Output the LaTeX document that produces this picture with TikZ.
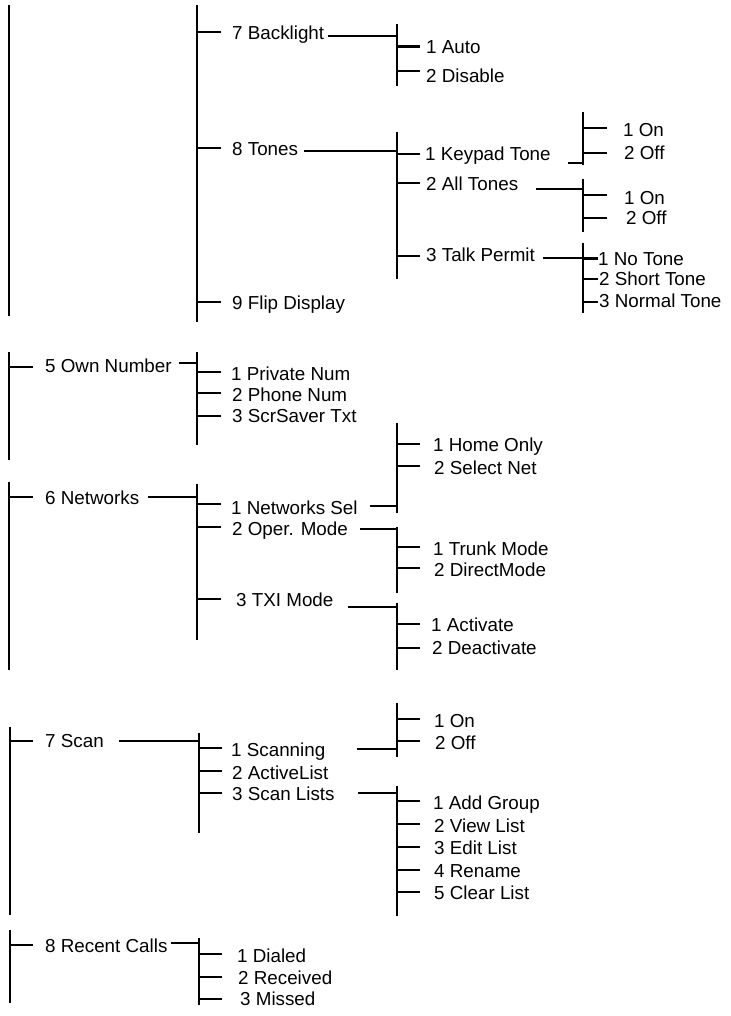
\documentclass[tikz,border=0pt]{standalone}
\usepackage{fontspec}
\setmainfont{Liberation Sans}
\tikzset{
  lbl/.style={anchor=west, inner sep=0pt, text height=13.5pt, text depth=0pt,
              font=\fontsize{18.8}{22}\selectfont},
  ln/.style={line width=2.2pt, black},
}
% bar: name, x, top y, bottom y
\newcommand\mybar[4]{\coordinate (#1) at (#2,#3); \coordinate (#1e) at (#2,#4); \draw[ln] (#1) -- (#1e);}
% leaf: name, bar, x, y, tick yshift, gap, text
\newcommand\leaf[7]{\node[lbl] (#1) at (#3,#4) {#7};
  \draw[ln] ([shift={(-#6pt,#5pt)}]#1.west) coordinate (tmp) -- (tmp -| #2);}
% link from parent text to child bar: parent, bar, xshift, yshift
\newcommand\link[4]{\draw[ln] ([shift={(#3pt,#4pt)}]#1.east) coordinate (tmp) -- (tmp -| #2);}
\begin{document}
\begin{tikzpicture}[x=1pt,y=-1pt]
\useasboundingbox (0,0) rectangle (730,1016);
% ---------- section 1
\mybar{bA}{9}{5}{316}
\mybar{bB}{197}{5}{322}
\leaf{nBack}{bB}{232}{33}{0.7}{11}{7 Backlight}
\leaf{nTones}{bB}{232}{149}{0.7}{11}{8 Tones}
\leaf{nFlip}{bB}{232}{302.5}{0.8}{11}{9 Flip Display}
\mybar{bC}{397}{24}{86}
\link{nBack}{bC}{3.5}{-3}
\leaf{nAuto}{bC}{426}{46.5}{0}{6}{1 Auto}
\leaf{nDis}{bC}{426}{76}{5}{6}{2 Disable}
\mybar{bD}{397}{132}{279}
\link{nTones}{bD}{6}{-2}
\leaf{nKey}{bD}{425}{154}{0}{5}{1 Keypad Tone}
\leaf{nAll}{bD}{426}{184}{1.3}{6}{2 All Tones}
\leaf{nTalk}{bD}{426}{255}{-1}{6}{3 Talk Permit}
\mybar{bE}{583}{112}{165}
\link{nKey}{bE}{17}{-9}
\leaf{nKOn}{bE}{623}{129.5}{1.8}{16}{1 On}
\leaf{nKOff}{bE}{624}{152.5}{-0.8}{17}{2 Off}
\mybar{bF}{583}{179}{232}
\link{nAll}{bF}{18}{-5}
\leaf{nAOn}{bF}{624}{197.5}{2.5}{17}{1 On}
\leaf{nAOff}{bF}{626}{217.5}{-0.8}{19}{2 Off}
\mybar{bG}{583}{243}{313}
\link{nTalk}{bG}{8}{-3}
\leaf{nNoT}{bG}{598}{258.5}{0}{0}{1 No Tone}
\leaf{nShT}{bG}{599}{279}{0}{1}{2 Short Tone}
\leaf{nNoR}{bG}{599}{301}{-0.7}{1}{3 Normal Tone}
% ---------- section 2
\mybar{bH}{9}{352}{460}
\leaf{nOwn}{bH}{45}{365.5}{-1.2}{12}{5 Own Number}
\mybar{bI}{197}{352}{445}
\link{nOwn}{bI}{7}{2.5}
\leaf{nPriv}{bI}{231}{373.3}{1}{10}{1 Private Num}
\leaf{nPhone}{bI}{232}{394.5}{1.2}{11}{2 Phone Num}
\leaf{nScr}{bI}{232}{416}{0.3}{11}{3 ScrSaver Txt}
\mybar{bJ}{9}{482}{670}
\leaf{nNet}{bJ}{45}{497.5}{0.2}{12}{6 Networks}
\mybar{bK}{197}{484}{640}
\link{nNet}{bK}{9}{0.5}
\leaf{nNetSel}{bK}{231}{507.5}{3.5}{10}{1 Networks Sel}
\leaf{nOper}{bK}{232}{529}{1.7}{11}{2 Oper. Mode}
\leaf{nTXI}{bK}{236}{600}{0.7}{15}{3 TXI Mode}
\mybar{bL}{397}{423}{513}
\link{nNetSel}{bL}{12}{1.5}
\leaf{nHome}{bL}{433}{445}{1}{13}{1 Home Only}
\leaf{nSel}{bL}{434}{467.5}{1.8}{14}{2 Select Net}
\mybar{bM}{397}{527}{593}
\link{nOper}{bM}{12}{0}
\leaf{nTrunk}{bM}{433}{548.5}{1.8}{13}{1 Trunk Mode}
\leaf{nDirect}{bM}{434}{570}{1.7}{14}{2 DirectMode}
\mybar{bN}{397}{603}{670}
\link{nTXI}{bN}{14}{-7}
\leaf{nAct}{bN}{431}{624.5}{0.5}{11}{1 Activate}
\leaf{nDeact}{bN}{432}{647.5}{-0.8}{12}{2 Deactivate}
% ---------- section 3
\mybar{bO}{10}{727}{915}
\leaf{nScan}{bO}{45}{741}{0}{12}{7 Scan}
\mybar{bP}{199}{733}{833}
\link{nScan}{bP}{15}{0}
\leaf{nScanning}{bP}{231}{750}{1.7}{9}{1 Scanning}
\leaf{nActive}{bP}{232}{772.5}{1.5}{10}{2 ActiveList}
\leaf{nLists}{bP}{232}{794}{0.7}{10}{3 Scan Lists}
\mybar{bQ}{397}{703}{757}
\link{nScanning}{bQ}{32}{1}
\leaf{nSOn}{bQ}{434}{721}{2}{14}{1 On}
\leaf{nSOff}{bQ}{435}{742.5}{1.2}{15}{2 Off}
\mybar{bR}{397}{786}{916}
\link{nLists}{bR}{23}{1}
\leaf{nAdd}{bR}{433}{802.5}{1.8}{13}{1 Add Group}
\leaf{nView}{bR}{434}{826}{2}{14}{2 View List}
\leaf{nEdit}{bR}{434}{847.5}{0.8}{14}{3 Edit List}
\leaf{nRen}{bR}{434}{871}{1}{14}{4 Rename}
\leaf{nClr}{bR}{434}{893}{1.3}{14}{5 Clear List}
% ---------- section 4
\mybar{bS}{10}{930}{1003}
\leaf{nRecent}{bS}{45}{946}{1}{12}{8 Recent Calls}
\mybar{bT}{199}{938}{1005}
\link{nRecent}{bT}{3.5}{3}
\leaf{nDial}{bT}{237}{955.5}{1.5}{15}{1 Dialed}
\leaf{nRecv}{bT}{238}{977.5}{0.8}{16}{2 Received}
\leaf{nMiss}{bT}{240}{999}{0}{18}{3 Missed}
\end{tikzpicture}
\end{document}
